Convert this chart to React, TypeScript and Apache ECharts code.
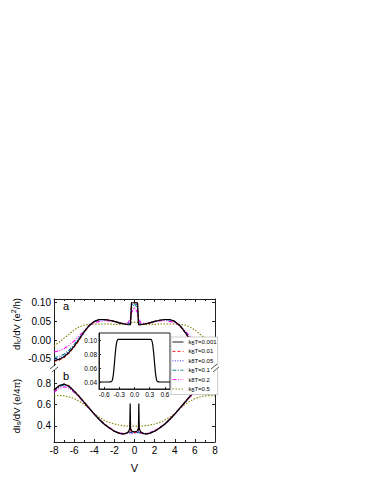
import React, { useEffect, useRef } from 'react';
import * as echarts from 'echarts';

// ---------- data ----------
const NAMES = ['kBT=0.001', 'kBT=0.01', 'kBT=0.05', 'kBT=0.1', 'kBT=0.2', 'kBT=0.5'];
const X_TICKS = [-8, -6, -4, -2, 0, 2, 4, 6, 8];
const A_TICKS = [-0.05, 0, 0.05, 0.1];
const B_TICKS = [0.4, 0.6, 0.8];
const INSET_X_TICKS = [-0.6, -0.3, 0, 0.3, 0.6];
const INSET_Y_TICKS = [0.04, 0.06, 0.08, 0.1];

// panel a : dIc/dV
const A_V = [-8, -7.5, -7, -6.5, -6, -5.5, -5, -4.5, -4, -3.5, -3, -2.5, -2, -1.5, -1, -0.6, -0.4, -0.3, 0, 0.3, 0.4, 0.6, 1, 1.5, 2, 2.5, 3, 3.5, 4, 4.5, 5, 5.5, 6, 6.5, 7, 7.5, 8];
const A_T0001 = [-0.055, -0.052, -0.045, -0.033, -0.017, 0.002, 0.022, 0.039, 0.050, 0.055, 0.055, 0.053, 0.050, 0.046, 0.043, 0.041, 0.041, 0.100, 0.100, 0.100, 0.041, 0.041, 0.043, 0.046, 0.050, 0.053, 0.055, 0.055, 0.050, 0.039, 0.022, 0.002, -0.017, -0.033, -0.045, -0.052, -0.055];
const A_T001 = [-0.057, -0.054, -0.047, -0.035, -0.019, 0.000, 0.021, 0.038, 0.050, 0.055, 0.055, 0.053, 0.050, 0.046, 0.043, 0.041, 0.041, 0.100, 0.100, 0.100, 0.041, 0.041, 0.043, 0.046, 0.050, 0.053, 0.055, 0.055, 0.050, 0.038, 0.021, 0.000, -0.019, -0.035, -0.047, -0.054, -0.057];
const A_T005 = [-0.052, -0.049, -0.042, -0.031, -0.015, 0.003, 0.022, 0.039, 0.050, 0.054, 0.055, 0.053, 0.050, 0.046, 0.043, 0.042, 0.046, 0.094, 0.099, 0.094, 0.046, 0.042, 0.043, 0.046, 0.050, 0.053, 0.055, 0.054, 0.050, 0.039, 0.022, 0.003, -0.015, -0.031, -0.042, -0.049, -0.052];
const A_T01 = [-0.047, -0.044, -0.038, -0.027, -0.012, 0.005, 0.023, 0.039, 0.049, 0.054, 0.054, 0.053, 0.050, 0.046, 0.043, 0.043, 0.051, 0.086, 0.097, 0.086, 0.051, 0.043, 0.043, 0.046, 0.050, 0.053, 0.054, 0.054, 0.049, 0.039, 0.023, 0.005, -0.012, -0.027, -0.038, -0.044, -0.047];
const A_T02 = [-0.032, -0.029, -0.023, -0.014, -0.003, 0.011, 0.025, 0.038, 0.046, 0.050, 0.052, 0.051, 0.049, 0.046, 0.044, 0.047, 0.060, 0.073, 0.088, 0.073, 0.060, 0.047, 0.044, 0.046, 0.049, 0.051, 0.052, 0.050, 0.046, 0.038, 0.025, 0.011, -0.003, -0.014, -0.023, -0.029, -0.032];
const A_T05 = [-0.016, -0.006, 0.005, 0.016, 0.027, 0.035, 0.040, 0.042, 0.043, 0.043, 0.043, 0.043, 0.042, 0.042, 0.042, 0.044, 0.046, 0.047, 0.048, 0.047, 0.046, 0.044, 0.042, 0.042, 0.042, 0.043, 0.043, 0.043, 0.043, 0.042, 0.040, 0.035, 0.027, 0.016, 0.005, -0.006, -0.016];

// panel b : dIs/dV
const B_V = [-8, -7.5, -7, -6.5, -6, -5.5, -5, -4.5, -4, -3.5, -3, -2.5, -2, -1.5, -1.2, -0.9, -0.6, -0.47, -0.43, -0.39, -0.25, 0, 0.25, 0.39, 0.43, 0.47, 0.6, 0.9, 1.2, 1.5, 2, 2.5, 3, 3.5, 4, 4.5, 5, 5.5, 6, 6.5, 7, 7.5, 8];
const B_T0001 = [0.735, 0.775, 0.790, 0.770, 0.725, 0.675, 0.620, 0.565, 0.510, 0.460, 0.415, 0.380, 0.350, 0.330, 0.325, 0.328, 0.345, 0.375, 0.610, 0.375, 0.350, 0.345, 0.350, 0.375, 0.610, 0.375, 0.345, 0.328, 0.325, 0.330, 0.350, 0.380, 0.415, 0.460, 0.510, 0.565, 0.620, 0.675, 0.725, 0.770, 0.790, 0.775, 0.735];
const B_T001 = [0.730, 0.772, 0.790, 0.772, 0.727, 0.677, 0.622, 0.566, 0.511, 0.461, 0.416, 0.381, 0.351, 0.331, 0.325, 0.328, 0.343, 0.360, 0.440, 0.360, 0.345, 0.340, 0.345, 0.360, 0.440, 0.360, 0.343, 0.328, 0.325, 0.331, 0.351, 0.381, 0.416, 0.461, 0.511, 0.566, 0.622, 0.677, 0.727, 0.772, 0.790, 0.772, 0.730];
const B_T005 = [0.728, 0.770, 0.786, 0.768, 0.724, 0.674, 0.620, 0.565, 0.510, 0.460, 0.416, 0.381, 0.351, 0.331, 0.326, 0.329, 0.338, 0.342, 0.350, 0.342, 0.340, 0.338, 0.340, 0.342, 0.350, 0.342, 0.338, 0.329, 0.326, 0.331, 0.351, 0.381, 0.416, 0.460, 0.510, 0.565, 0.620, 0.674, 0.724, 0.768, 0.786, 0.770, 0.728];
const B_T01 = [0.725, 0.766, 0.782, 0.765, 0.722, 0.673, 0.619, 0.564, 0.510, 0.461, 0.417, 0.382, 0.352, 0.332, 0.327, 0.329, 0.335, 0.338, 0.340, 0.339, 0.337, 0.336, 0.337, 0.339, 0.340, 0.338, 0.335, 0.329, 0.327, 0.332, 0.352, 0.382, 0.417, 0.461, 0.510, 0.564, 0.619, 0.673, 0.722, 0.765, 0.782, 0.766, 0.725];
const B_T02 = [0.712, 0.750, 0.765, 0.752, 0.713, 0.667, 0.615, 0.562, 0.510, 0.462, 0.420, 0.386, 0.357, 0.337, 0.331, 0.331, 0.333, 0.334, 0.334, 0.334, 0.334, 0.334, 0.334, 0.334, 0.334, 0.334, 0.333, 0.331, 0.331, 0.337, 0.357, 0.386, 0.420, 0.462, 0.510, 0.562, 0.615, 0.667, 0.713, 0.752, 0.765, 0.750, 0.712];
const B_T05 = [0.680, 0.684, 0.680, 0.670, 0.655, 0.630, 0.600, 0.560, 0.515, 0.480, 0.452, 0.432, 0.418, 0.408, 0.403, 0.400, 0.398, 0.398, 0.398, 0.398, 0.398, 0.397, 0.398, 0.398, 0.398, 0.398, 0.398, 0.400, 0.403, 0.408, 0.418, 0.432, 0.452, 0.480, 0.515, 0.560, 0.600, 0.630, 0.655, 0.670, 0.680, 0.684, 0.680];

// inset : kBT=0.001 close to V=0
const INSET_V = [-0.7, -0.6, -0.5, -0.46, -0.44, -0.42, -0.4, -0.38, -0.36, -0.34, -0.32, -0.25, 0, 0.25, 0.32, 0.34, 0.36, 0.38, 0.4, 0.42, 0.44, 0.46, 0.5, 0.6, 0.7];
const INSET_Y = [0.040, 0.040, 0.040, 0.0405, 0.042, 0.049, 0.063, 0.080, 0.093, 0.0995, 0.101, 0.101, 0.101, 0.101, 0.101, 0.0995, 0.093, 0.080, 0.063, 0.049, 0.042, 0.0405, 0.040, 0.040, 0.040];

const A_SERIES = [A_T0001, A_T001, A_T005, A_T01, A_T02, A_T05];
const B_SERIES = [B_T0001, B_T001, B_T005, B_T01, B_T02, B_T05];

// ---------- styles ----------
const COLORS = ['#000000', '#ff0000', '#2020ff', '#008080', '#ff00ff', '#808000'];
const DASHES: any[] = ['solid', [3, 2], [1, 1.5], [4, 1.5, 1, 1.5], [4, 1.5, 1, 1.5, 1, 1.5], [1.5, 1.5]];
const FONT = 'Liberation Sans, Arial, sans-serif';
const AX = '#222';

const pairs = (xs: number[], ys: number[]) => xs.map((x, i) => [x, ys[i]]);

export default function App() {
  const ref = useRef<HTMLDivElement>(null);

  useEffect(() => {
    if (!ref.current) return;
    const chart = echarts.init(ref.current, undefined, { renderer: 'svg' });

    const L = 54, W = 161;
    const frameAxisLine = { show: true, lineStyle: { color: AX, width: 1 } };

    const xMain = (gridIndex: number, position: string, showLabel: boolean) => ({
      type: 'value', gridIndex, position, min: -8, max: 8, interval: 2,
      axisLine: { ...frameAxisLine, onZero: false },
      axisTick: { show: true, inside: true, length: 3, lineStyle: { color: AX } },
      minorTick: { show: true, splitNumber: 2, length: 2, lineStyle: { color: AX } },
      axisLabel: { show: showLabel, fontSize: 10, color: '#000', fontFamily: FONT, margin: 3 },
      splitLine: { show: false },
      name: showLabel ? 'V' : '', nameLocation: 'middle', nameGap: 20,
      nameTextStyle: { fontSize: 11, color: '#000', fontFamily: FONT },
    });

    const yMain = (gridIndex: number, min: number, max: number, ticks: number[], dec: number, position: string, showLabel: boolean) => ({
      type: 'value', gridIndex, position, min, max,
      axisLine: { ...frameAxisLine, onZero: false },
      axisTick: { show: true, inside: true, length: 3, customValues: ticks, lineStyle: { color: AX } },
      axisLabel: { show: showLabel, customValues: ticks, formatter: (v: number) => v.toFixed(dec), fontSize: 10, color: '#000', fontFamily: FONT, margin: 3 },
      splitLine: { show: false },
    });

    const series: any[] = [];
    A_SERIES.forEach((ys, i) => series.push({
      name: NAMES[i], type: 'line', xAxisIndex: 0, yAxisIndex: 0, data: pairs(A_V, ys),
      symbol: 'none', showSymbol: false, smooth: false, z: 10 - i,
      lineStyle: { color: COLORS[i], width: i === 0 ? 1.2 : 1.1, type: DASHES[i] },
      itemStyle: { color: COLORS[i] },
    }));
    B_SERIES.forEach((ys, i) => series.push({
      name: NAMES[i], type: 'line', xAxisIndex: 2, yAxisIndex: 2, data: pairs(B_V, ys),
      symbol: 'none', showSymbol: false, smooth: false, z: 10 - i,
      lineStyle: { color: COLORS[i], width: i === 0 ? 1.2 : 1.1, type: DASHES[i] },
      itemStyle: { color: COLORS[i] },
    }));
    series.push({
      name: 'inset', type: 'line', xAxisIndex: 4, yAxisIndex: 4, data: pairs(INSET_V, INSET_Y),
      symbol: 'none', showSymbol: false, smooth: 0.3, z: 20,
      lineStyle: { color: '#000', width: 1.2 },
    });

    const subRich = {
      n: { fontSize: 9.5, fontFamily: FONT, color: '#000', lineHeight: 12, verticalAlign: 'middle' },
      s: { fontSize: 7, fontFamily: FONT, color: '#000', lineHeight: 7, verticalAlign: 'bottom' },
      p: { fontSize: 7, fontFamily: FONT, color: '#000', lineHeight: 7, verticalAlign: 'top' },
    };

    chart.setOption({
      animation: false,
      backgroundColor: '#fff',
      textStyle: { fontFamily: FONT },
      grid: [
        { left: L, top: 299, width: W, height: 69 },
        { left: L, top: 368, width: W, height: 74 },
        { left: 99, top: 333, width: 71, height: 56, show: true, backgroundColor: '#fff', borderColor: AX, borderWidth: 1, z: 5 },
      ],
      xAxis: [
        xMain(0, 'top', false),
        { type: 'value', gridIndex: 0, position: 'bottom', min: -8, max: 8, show: false },
        xMain(1, 'bottom', true),
        { type: 'value', gridIndex: 1, position: 'top', min: -8, max: 8, show: false },
        {
          type: 'value', gridIndex: 2, min: -0.7, max: 0.7, position: 'bottom',
          axisLine: { ...frameAxisLine, onZero: false },
          axisTick: { show: true, inside: true, length: 2, customValues: INSET_X_TICKS, lineStyle: { color: AX } },
          axisLabel: { customValues: INSET_X_TICKS, formatter: (v: number) => v.toFixed(1), fontSize: 6.5, color: '#000', fontFamily: FONT, margin: 2 },
          splitLine: { show: false }, z: 6,
        },
      ],
      yAxis: [
        yMain(0, -0.075, 0.11, A_TICKS, 2, 'left', true),
        yMain(0, -0.075, 0.11, A_TICKS, 2, 'right', false),
        yMain(1, 0.25, 0.94, B_TICKS, 1, 'left', true),
        yMain(1, 0.25, 0.94, B_TICKS, 1, 'right', false),
        {
          type: 'value', gridIndex: 2, min: 0.03, max: 0.11, position: 'left',
          axisLine: { ...frameAxisLine, onZero: false },
          axisTick: { show: true, inside: true, length: 2, customValues: INSET_Y_TICKS, lineStyle: { color: AX } },
          axisLabel: { customValues: INSET_Y_TICKS, formatter: (v: number) => v.toFixed(2), fontSize: 6.5, color: '#000', fontFamily: FONT, margin: 2 },
          splitLine: { show: false }, z: 6,
        },
      ],
      legend: {
        data: NAMES, orient: 'vertical', left: 171, top: 337,
        itemWidth: 11, itemHeight: 6, itemGap: 2.9, itemTextGap: 1.5,
        padding: [2, 1, 2, 1],
        backgroundColor: '#fff', borderColor: '#aaa', borderWidth: 0.6,
        itemStyle: { opacity: 0 },
        lineStyle: { width: 0.9 },
        textStyle: {
          fontSize: 6, color: '#000', fontFamily: FONT,
          rich: {
            k: { fontSize: 6, fontFamily: FONT, color: '#000', lineHeight: 7, verticalAlign: 'middle' },
            b: { fontSize: 4.5, fontFamily: FONT, color: '#000', lineHeight: 4, verticalAlign: 'bottom' },
          },
        },
        formatter: (name: string) => '{k|k}{b|B}{k|' + name.slice(2) + '}',
        z: 30,
      },
      graphic: [
        { type: 'text', left: 63, top: 300, style: { text: 'a', fontSize: 11, fontFamily: FONT, fill: '#000' } },
        { type: 'text', left: 63, top: 370, style: { text: 'b', fontSize: 11, fontFamily: FONT, fill: '#000' } },
        {
          type: 'text', x: 16, y: 324, rotation: Math.PI / 2,
          style: { text: '{n|dI}{s|c}{n|/dV (e}{p|2}{n|/h)}', rich: subRich, align: 'center', verticalAlign: 'middle' },
        },
        {
          type: 'text', x: 16, y: 406, rotation: Math.PI / 2,
          style: { text: '{n|dI}{s|s}{n|/dV (e/4π)}', rich: subRich, align: 'center', verticalAlign: 'middle' },
        },
        // axis break marks
        { type: 'rect', shape: { x: 50, y: 366, width: 8, height: 4 }, style: { fill: '#fff' }, z: 40 },
        { type: 'line', shape: { x1: 50, y1: 369, x2: 56, y2: 364 }, style: { stroke: AX, lineWidth: 0.8 }, z: 41 },
        { type: 'line', shape: { x1: 52, y1: 372, x2: 58, y2: 367 }, style: { stroke: AX, lineWidth: 0.8 }, z: 41 },
        { type: 'rect', shape: { x: 211, y: 366, width: 8, height: 4 }, style: { fill: '#fff' }, z: 40 },
        { type: 'line', shape: { x1: 211, y1: 369, x2: 217, y2: 364 }, style: { stroke: AX, lineWidth: 0.8 }, z: 41 },
        { type: 'line', shape: { x1: 213, y1: 372, x2: 219, y2: 367 }, style: { stroke: AX, lineWidth: 0.8 }, z: 41 },
      ],
      series,
    });

    return () => chart.dispose();
  }, []);

  return <div ref={ref} style={{ position: 'fixed', left: 0, top: 0, width: 374, height: 484, background: '#fff' }} />;
}
